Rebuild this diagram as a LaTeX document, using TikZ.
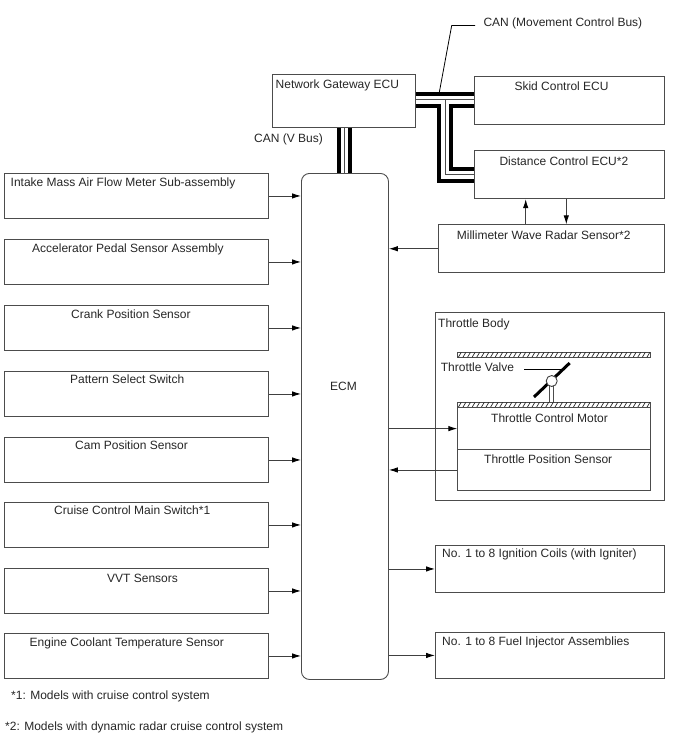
\documentclass[tikz,border=0pt]{standalone}
\usepackage{fontspec}
\setmainfont{Liberation Sans}
\usetikzlibrary{arrows.meta}
\tikzset{
	block/.style={draw=black!70,line width=0.9pt,inner sep=0pt,anchor=north west},
	txt/.style={anchor=west,inner sep=0pt,yshift=-1.2pt,font=\fontsize{12}{14}\selectfont,text=black!85},
	wire/.style={draw=black!75,line width=0.9pt},
	sig/.style={wire,-{Latex[length=9pt,width=5.5pt,black]}},
	canbar/.style={draw=black,line width=4pt,line cap=butt},
	canmid/.style={draw=black!70,line width=0.8pt},
	hatchbar/.style={draw=black!85,line width=0.7pt}
}
\begin{document}
\begin{tikzpicture}[x=1pt,y=-1pt]
	\useasboundingbox (0,0) rectangle (688,755);
	% main controller
	\node[block,rounded corners=8pt,minimum width=87pt,minimum height=506pt] (ecm) at (301,173) {};
	\node[txt] (ecmtxt) at (330,385) {ECM};
	% sensors down the left side
	\foreach \nm/\yt/\xt/\yl/\lbl in {maf/173/10.5/182/Intake Mass Air Flow Meter Sub-assembly,
		accel/239/32/248/Accelerator Pedal Sensor Assembly,
		crank/305/71/313/Crank Position Sensor,
		pattern/371/70/378/Pattern Select Switch,
		cam/437/75/444/Cam Position Sensor,
		cruise/502/54/509/Cruise Control Main Switch*1,
		vvt/568/107/577/VVT Sensors,
		coolant/633/29.5/642/Engine Coolant Temperature Sensor}{
		\node[block,minimum width=264pt,minimum height=45pt] (\nm) at (4.3,\yt) {};
		\node[txt] (\nm txt) at (\xt,\yl) {\lbl};
		\draw[sig] (\nm.east) -- (\nm.east -| ecm.west);
	}
	% ECUs on the CAN
	\node[block,minimum width=143.5pt,minimum height=53pt] (gateway) at (271.7,73.7) {};
	\node[txt] (gatewaytxt) at (275.5,84) {Network Gateway ECU};
	\node[block,minimum width=190pt,minimum height=48pt] (skid) at (473.7,76.3) {};
	\node[txt] (skidtxt) at (514.3,85) {Skid Control ECU};
	\node[block,minimum width=190pt,minimum height=48pt] (distance) at (473.7,150.3) {};
	\node[txt] (distancetxt) at (499.3,160) {Distance Control ECU*2};
	\node[block,minimum width=225.4pt,minimum height=48pt] (radar) at (438.3,224.3) {};
	\node[txt] (radartxt) at (456.7,234) {Millimeter Wave Radar Sensor*2};
	\draw[sig] (radar.west) -- (radar.west -| ecm.east);
	\draw[sig] (radar.north -| 525.7,0) -- (distance.south -| 525.7,0);
	\draw[sig] (distance.south -| 566.3,0) -- (radar.north -| 566.3,0);
	% V bus
	\draw[canbar] (gateway.south -| 338.9,0) -- (ecm.north -| 338.9,0);
	\draw[canbar] (gateway.south -| 350.4,0) -- (ecm.north -| 350.4,0);
	\draw[canmid] (gateway.south -| 344.6,0) -- (ecm.north -| 344.6,0);
	\node[txt] (vbustxt) at (254,138) {CAN (V Bus)};
	% movement control bus
	\draw[canbar] (gateway.east |- 0,94) -- (skid.west |- 0,94);
	\draw[canmid] (gateway.east |- 0,99.8) -- (skid.west |- 0,99.8);
	\draw[canbar,line join=miter] (gateway.east |- 0,106) -- (439,106) -- (439,181) -- (distance.west |- 0,181);
	\draw[canbar,line join=miter] (skid.west |- 0,106) -- (451,106) -- (451,168.7) -- (distance.west |- 0,168.7);
	\draw[canmid] (445,99.8) -- (445,174.8) -- (distance.west |- 0,174.8);
	\coordinate (canbend) at (451.7,25.5);
	\coordinate (cantip) at (439,94);
	\node[txt] (cantxt) at (483.3,22) {CAN (Movement Control Bus)};
	\draw[wire,draw=black,line width=0.8pt] (475,25.5) -- (canbend) -- (cantip);
	% throttle body
	\node[block,minimum width=229pt,minimum height=187.7pt] (throttle) at (435,312.3) {};
	\node[txt] (throttletxt) at (438,323) {Throttle Body};
	\node[block,minimum width=193pt,minimum height=5pt] (barup) at (457.3,352.3) {};
	\node[block,minimum width=193pt,minimum height=5pt] (barlow) at (457.3,402.3) {};
	\foreach \i in {0,...,41}{
		\draw[hatchbar] (458.3+\i*4.6,357.3) -- (461.3+\i*4.6,352.3);
		\draw[hatchbar] (458.3+\i*4.6,407.3) -- (461.3+\i*4.6,402.3);
	}
	\node[block,minimum width=193pt,minimum height=41.7pt] (motor) at (457.3,407.3) {};
	\node[txt] (motortxt) at (491,417) {Throttle Control Motor};
	\node[block,minimum width=193pt,minimum height=41pt] (tps) at (457.3,449) {};
	\node[txt] (tpstxt) at (484,458) {Throttle Position Sensor};
	\draw[sig] (ecm.east |- motor.west) -- (motor.west);
	\draw[sig] (tps.west) -- (tps.west -| ecm.east);
	% valve plate on its shaft
	\draw[canmid,line width=0.8pt] (549.6,385) -- (549.6,402.3);
	\draw[canmid,line width=0.8pt] (553.8,385) -- (553.8,402.3);
	\draw[draw=black,line width=3pt] (534,397) -- (569.7,363);
	\node[circle,draw=black!75,fill=white,line width=0.9pt,minimum size=11pt,inner sep=0pt] (shaft) at (551.7,381) {};
	\node[txt] (valvetxt) at (440.7,366) {Throttle Valve};
	\draw[wire,draw=black,line width=0.8pt] (524,369) -- (562,369);
	% actuators
	\node[block,minimum width=229pt,minimum height=47pt] (ignition) at (435,545) {};
	\node[txt] (ignitiontxt) at (442,553) {No. 1 to 8 Ignition Coils (with Igniter)};
	\node[block,minimum width=229pt,minimum height=46pt] (injector) at (435,632) {};
	\node[txt] (injectortxt) at (442,641) {No. 1 to 8 Fuel Injector Assemblies};
	\draw[sig] (ecm.east |- ignition.west) -- (ignition.west);
	\draw[sig] (ecm.east |- injector.west) -- (injector.west);
	% footnotes
	\node[txt] (noteone) at (11,695) {*1: Models with cruise control system};
	\node[txt] (notetwo) at (5,726) {*2: Models with dynamic radar cruise control system};
\end{tikzpicture}
\end{document}
